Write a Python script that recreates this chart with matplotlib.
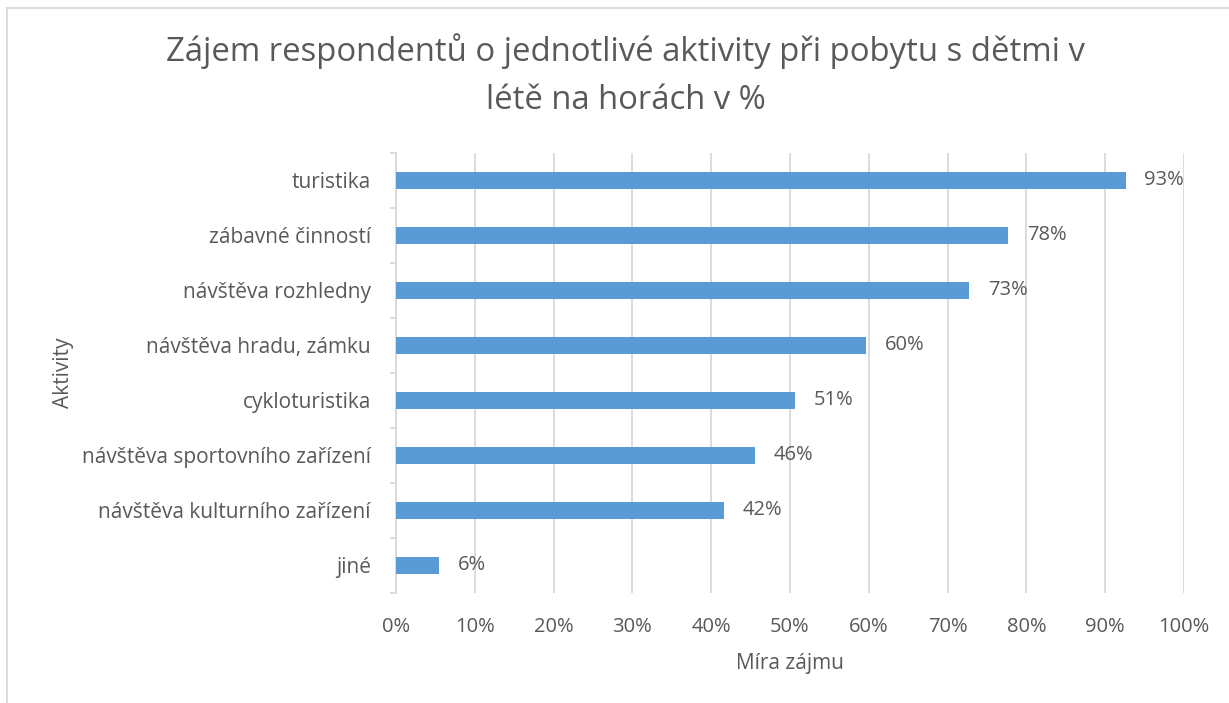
import matplotlib
matplotlib.use("Agg")
import matplotlib.pyplot as plt
from matplotlib.lines import Line2D
from matplotlib.ticker import MultipleLocator, PercentFormatter

# data
activities = [
    "turistika",
    "zábavné činností",
    "návštěva rozhledny",
    "návštěva hradu, zámku",
    "cykloturistika",
    "návštěva sportovního zařízení",
    "návštěva kulturního zařízení",
    "jiné",
]
interest = [92.6, 77.7, 72.7, 59.6, 50.6, 45.6, 41.6, 5.5]

title = "Zájem respondentů o jednotlivé aktivity při pobytu s dětmi v\nlétě na horách v %"
x_label = "Míra zájmu"
y_label = "Aktivity"

text_col = "#595959"
grid_col = "#D9D9D9"
bar_col = "#5B9BD5"

plt.rcParams["font.family"] = ["Open Sans", "DejaVu Sans"]

fig = plt.figure(figsize=(12.29, 7.03), dpi=100)
ax = fig.add_axes([0.3222, 0.1565, 0.6412, 0.6259])

y = list(range(len(activities)))
ax.barh(y, interest, height=0.32, color=bar_col, zorder=3)

for yi, v in zip(y, interest):
    ax.annotate(f"{v:.0f}%", (v, yi), xytext=(13.5, 0), textcoords="offset points",
                va="center", ha="left", fontsize=14.5, color=text_col, zorder=4)

ax.set_xlim(0, 100)
ax.set_ylim(len(activities) - 0.5, -0.5)
ax.xaxis.set_major_locator(MultipleLocator(10))
ax.xaxis.set_major_formatter(PercentFormatter(decimals=0))
ax.set_yticks(y)
ax.set_yticklabels(activities)
ax.set_yticks([i - 0.5 for i in range(len(activities) + 1)], minor=True)

ax.grid(axis="x", color=grid_col, linewidth=1.3, zorder=0)
for s in ["top", "right", "bottom"]:
    ax.spines[s].set_visible(False)
ax.spines["left"].set_color(grid_col)
ax.spines["left"].set_linewidth(1.3)

ax.tick_params(axis="x", length=0, pad=17, labelsize=14.5, labelcolor=text_col)
ax.tick_params(axis="y", which="major", length=0, pad=18, labelsize=15, labelcolor=text_col)
ax.tick_params(axis="y", which="minor", length=4, width=1.3, color=grid_col)

ax.set_xlabel(x_label, fontsize=15, color=text_col, labelpad=12)
ax.set_ylabel(y_label, fontsize=15, color=text_col, labelpad=6)

fig.text(0.509, 0.893, title, ha="center", va="center", fontsize=23.7,
         color=text_col, linespacing=1.62)

# chart area border (left and top only visible)
fig.add_artist(Line2D([7 / 1229, 7 / 1229], [0, 1 - 8 / 703],
                      transform=fig.transFigure, color=grid_col, linewidth=1.3))
fig.add_artist(Line2D([7 / 1229, 1], [1 - 8 / 703, 1 - 8 / 703],
                      transform=fig.transFigure, color=grid_col, linewidth=1.3))

fig.savefig("out.png", dpi=100, facecolor="white")
